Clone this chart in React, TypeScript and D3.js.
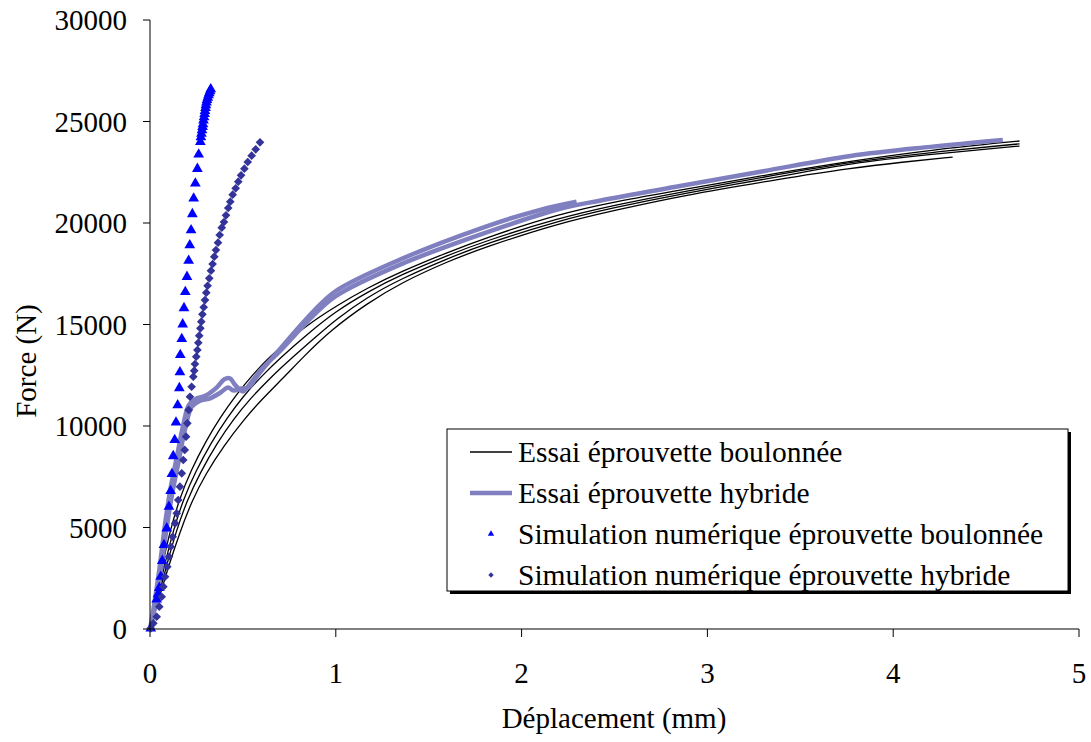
import React from "react";
import * as d3 from "d3";

type P = [number, number];

// Essai éprouvette boulonnée (4 test curves)
const boulonne1: P[] = [[0,0],[0.035,1700],[0.07,3300],[0.11,4900],[0.16,6450],[0.22,7800],[0.3,9250],[0.38,10450],[0.46,11490],[0.55,12500],[0.64,13380],[0.78,14500],[0.9,15300],[1.0,15900],[1.17,16800],[1.35,17600],[1.6,18550],[1.8,19250],[2.2,20450],[2.5,21050],[2.85,21620],[3.4,22500],[3.77,23050],[4.2,23600],[4.68,24040]];
const boulonne2: P[] = [[0,0],[0.04,1650],[0.08,3200],[0.125,4850],[0.18,6400],[0.245,7750],[0.33,9200],[0.415,10400],[0.5,11450],[0.6,12450],[0.7,13350],[0.85,14550],[1.0,15650],[1.17,16600],[1.35,17450],[1.6,18400],[1.8,19100],[2.2,20250],[2.5,20880],[2.85,21520],[3.4,22420],[3.77,23000],[4.2,23480],[4.68,23900]];
const boulonne3: P[] = [[0,0],[0.045,1600],[0.09,3150],[0.14,4800],[0.2,6350],[0.27,7700],[0.36,9150],[0.45,10350],[0.54,11350],[0.65,12400],[0.76,13330],[0.9,14450],[1.0,15250],[1.17,16350],[1.35,17250],[1.6,18250],[1.8,18950],[2.2,20120],[2.5,20760],[2.85,21430],[3.4,22300],[3.77,22950],[4.2,23380],[4.68,23790]];
const boulonne4: P[] = [[0,0],[0.05,1550],[0.1,3100],[0.16,4750],[0.225,6300],[0.3,7650],[0.4,9050],[0.5,10250],[0.6,11300],[0.71,12300],[0.83,13450],[0.97,14700],[1.17,16050],[1.35,17050],[1.6,18100],[1.8,18800],[2.2,19990],[2.5,20620],[2.85,21330],[3.4,22180],[3.77,22700],[4.05,23000],[4.32,23250]];

// Essai éprouvette hybride (2 test curves)
const hybride1: P[] = [[0,0],[0.018,940],[0.05,2900],[0.08,5100],[0.11,6900],[0.145,8500],[0.18,10100],[0.21,11050],[0.25,11350],[0.3,11500],[0.36,11900],[0.4,12300],[0.43,12350],[0.46,12000],[0.5,11700],[0.54,12100],[0.6,12800],[0.7,13700],[0.88,15450],[1.0,16400],[1.346,17950],[1.8,19500],[2.207,20700],[2.42,21100],[2.853,21820],[3.3,22550],[3.77,23300],[4.2,23750],[4.59,24090]];
const hybride2: P[] = [[0,0],[0.025,1000],[0.06,3000],[0.09,5000],[0.12,6700],[0.155,8300],[0.19,9900],[0.225,10950],[0.27,11250],[0.32,11350],[0.38,11650],[0.42,11900],[0.45,11750],[0.49,11850],[0.53,11900],[0.58,12500],[0.7,13800],[0.88,15650],[1.0,16650],[1.346,18200],[1.8,19800],[2.1,20650],[2.296,21050]];

// Simulation numérique éprouvette boulonnée (triangles)
const simBoulonnee: P[] = [[0.004,30],[0.036,1460],[0.043,1720],[0.05,2030],[0.058,2580],[0.066,3360],[0.075,4140],[0.09,4960],[0.102,6030],[0.111,6800],[0.118,7640],[0.125,8520],[0.133,9310],[0.14,10180],[0.149,11030],[0.158,11870],[0.161,12650],[0.163,13500],[0.171,14290],[0.176,15010],[0.183,15810],[0.19,16600],[0.199,17350],[0.208,18140],[0.214,18910],[0.221,19650],[0.228,20440],[0.235,21210],[0.244,21950],[0.255,22670],[0.262,23380],[0.271,24000],[0.274,24230],[0.277,24400],[0.28,24580],[0.283,24730],[0.285,24870],[0.288,25050],[0.291,25220],[0.294,25380],[0.296,25520],[0.299,25670],[0.301,25810],[0.304,25940],[0.307,26060],[0.311,26180],[0.315,26300],[0.319,26400],[0.323,26500],[0.327,26590]];

// Simulation numérique éprouvette hybride (diamonds)
const simHybride: P[] = [[0.004,35],[0.018,280],[0.036,605],[0.05,1100],[0.063,1590],[0.072,2085],[0.081,2575],[0.093,3070],[0.102,3560],[0.111,4055],[0.122,4545],[0.135,5205],[0.144,5700],[0.152,6355],[0.161,7010],[0.171,7670],[0.179,8325],[0.187,8820],[0.194,9475],[0.201,10130],[0.208,10790],[0.215,11440],[0.224,11935],[0.233,12430],[0.238,12725],[0.242,13055],[0.249,13415],[0.255,13745],[0.26,14100],[0.265,14450],[0.271,14810],[0.276,15140],[0.282,15500],[0.289,15850],[0.296,16205],[0.303,16570],[0.31,16910],[0.319,17275],[0.328,17650],[0.337,17980],[0.346,18340],[0.355,18670],[0.366,19030],[0.375,19410],[0.386,19770],[0.398,20050],[0.409,20380],[0.421,20740],[0.432,21050],[0.445,21395],[0.461,21710],[0.475,22035],[0.49,22350],[0.508,22675],[0.526,23005],[0.547,23315],[0.569,23630],[0.592,23975]];

const xTicks = [0, 1, 2, 3, 4, 5];
const yTicks = [0, 5000, 10000, 15000, 20000, 25000, 30000];
const legendLabels = [
  "Essai éprouvette boulonnée",
  "Essai éprouvette hybride",
  "Simulation numérique éprouvette boulonnée",
  "Simulation numérique éprouvette hybride",
];

const FONT = "'Liberation Serif', 'Times New Roman', serif";

export default function App() {
  const x = d3.scaleLinear().domain([0, 5]).range([150, 1079]);
  const y = d3.scaleLinear().domain([0, 30000]).range([629, 20]);
  const line = d3
    .line<P>()
    .x((d) => x(d[0]))
    .y((d) => y(d[1]))
    .curve(d3.curveCatmullRom.alpha(0.5));
  const smooth = d3
    .line<P>()
    .x((d) => x(d[0]))
    .y((d) => y(d[1]))
    .curve(d3.curveBasis);

  const tri = d3.symbol().type(d3.symbolTriangle).size(50)()!;
  const dia = d3.symbol().type(d3.symbolDiamond2).size(48)()!;
  const triSmall = d3.symbol().type(d3.symbolTriangle).size(18)()!;
  const diaSmall = d3.symbol().type(d3.symbolDiamond2).size(18)()!;

  const hybColor = "#8080C0";
  const triColor = "#0000FF";
  const diaColor = "#333399";

  const lgX = 447, lgY = 429, lgW = 621, lgH = 162;
  const rowY = [452, 493, 534, 575];

  return (
    <svg
      width={1091}
      height={742}
      style={{ position: "absolute", left: 0, top: 0, background: "#fff" }}
      fontFamily={FONT}
    >
      {/* data */}
      {[boulonne1, boulonne2, boulonne3, boulonne4].map((s, i) => (
        <path key={"b" + i} d={smooth(s)!} fill="none" stroke="#000" strokeWidth={1.3} />
      ))}
      {[hybride1, hybride2].map((s, i) => (
        <path key={"h" + i} d={line(s)!} fill="none" stroke={hybColor} strokeWidth={4.5} />
      ))}
      {simBoulonnee.map((d, i) => (
        <path key={"t" + i} d={tri} transform={`translate(${x(d[0])},${y(d[1])})`} fill={triColor} />
      ))}
      {simHybride.map((d, i) => (
        <path key={"d" + i} d={dia} transform={`translate(${x(d[0])},${y(d[1])})`} fill={diaColor} />
      ))}

      {/* axes */}
      <line x1={150} y1={20} x2={150} y2={629} stroke="#000" strokeWidth={1} />
      <line x1={150} y1={629} x2={1079} y2={629} stroke="#000" strokeWidth={1} />
      {yTicks.map((t) => (
        <g key={"yt" + t}>
          <line x1={143} x2={150} y1={y(t)} y2={y(t)} stroke="#000" />
          <text x={127} y={y(t)} dy="0.35em" textAnchor="end" fontSize={29} fill="#000">
            {t}
          </text>
        </g>
      ))}
      {xTicks.map((t) => (
        <g key={"xt" + t}>
          <line x1={x(t)} x2={x(t)} y1={629} y2={637} stroke="#000" />
          <text x={x(t)} y={683} textAnchor="middle" fontSize={29} fill="#000">
            {t}
          </text>
        </g>
      ))}
      <text x={614} y={728} textAnchor="middle" fontSize={29} fill="#000">
        Déplacement (mm)
      </text>
      <text
        transform={`translate(36,361) rotate(-90)`}
        textAnchor="middle"
        fontSize={29}
        fill="#000"
      >
        Force (N)
      </text>

      {/* legend */}
      <rect x={lgX + 3} y={lgY + 3} width={lgW} height={lgH} fill="#000" />
      <rect x={lgX} y={lgY} width={lgW} height={lgH} fill="#fff" stroke="#000" strokeWidth={1} />
      <line x1={470} x2={512} y1={rowY[0]} y2={rowY[0]} stroke="#000" strokeWidth={1.3} />
      <line x1={470} x2={512} y1={rowY[1]} y2={rowY[1]} stroke={hybColor} strokeWidth={4.5} />
      <path d={triSmall} transform={`translate(491,${rowY[2]})`} fill={triColor} />
      <path d={diaSmall} transform={`translate(491,${rowY[3]})`} fill={diaColor} />
      {legendLabels.map((l, i) => (
        <text key={l} x={518} y={rowY[i]} dy="0.35em" fontSize={29.5} fill="#000">
          {l}
        </text>
      ))}
    </svg>
  );
}
